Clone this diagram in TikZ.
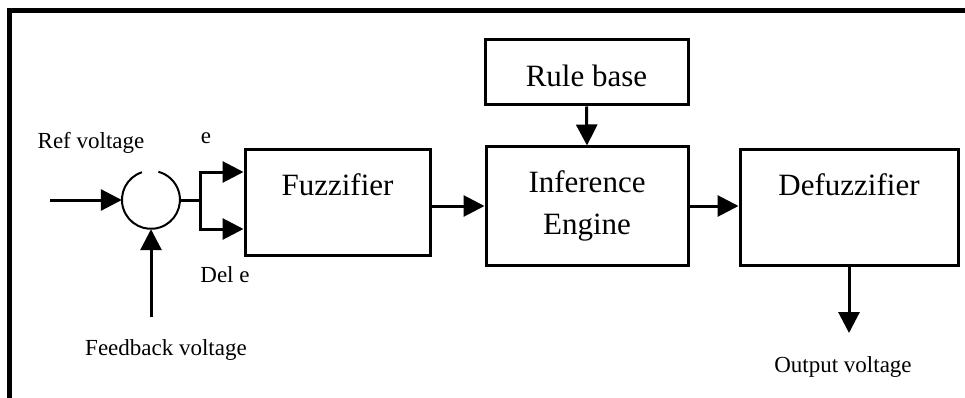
\documentclass[tikz,border=0pt]{standalone}
\usepackage{fontspec}
\setmainfont{Liberation Serif}
\usetikzlibrary{arrows.meta}
\begin{document}
\begin{tikzpicture}[x=1pt,y=-1pt,
  box/.style={draw, line width=3pt, inner sep=0pt, font=\fontsize{31}{42}\selectfont, align=center},
  lbl/.style={inner sep=0pt, font=\fontsize{23}{27}\selectfont},
  arr/.style={line width=3pt, -{Triangle[length=21pt,width=21pt]}},
  wire/.style={line width=3pt}]
\useasboundingbox (0,0) rectangle (965,398);
% frame
\draw[line width=5pt] (9.5,398) -- (9.5,11) -- (965,11);
% blocks
\node[box, minimum width=203pt, minimum height=65pt, text height=29pt, text depth=0pt] (rule) at (586.5,72.5) {Rule base};
\node[box, minimum width=202pt, minimum height=118pt] (inf) at (587,206) {Inference\\Engine};
\node[box, minimum width=218pt, minimum height=115pt, text height=21pt, text depth=46pt] (defz) at (849,207.5) {Defuzzifier};
\node[box, minimum width=185pt, minimum height=105pt, text height=21pt, text depth=36pt] (fuzz) at (337.5,202.5) {Fuzzifier};
% summing junction
\node[circle, minimum size=58pt, inner sep=0pt] (sum) at (151,200) {};
\draw[line width=2pt] (sum.108) arc[start angle=108, end angle=435, radius=29pt];
% labels
\node[lbl] (lref) at (91,143) {Ref voltage};
\node[lbl] (le) at (206,138) {e};
\node[lbl] (ldel) at (225,275) {Del e};
\node[lbl] (lfb) at (166,350) {Feedback voltage};
\node[lbl] (lout) at (843,367) {Output voltage};
% connectors
\coordinate (refin) at (50,200);
\coordinate (fbin) at (151,317);
\coordinate (split) at (200,200);
\coordinate (outp) at (849,333);
\draw[arr] (refin) -- (sum.west);
\draw[arr] (fbin) -- (sum.south);
\draw[wire] (sum.east) -- (split);
\draw[arr] (split) |- ([yshift=30.5pt]fuzz.west);
\draw[arr] (split) |- ([yshift=-26.5pt]fuzz.west);
\draw[arr] (fuzz.east |- inf.west) -- (inf.west);
\draw[arr] (inf.east) -- (defz.west |- inf.east);
\draw[arr] (rule.south) -- (inf.north);
\draw[arr] (defz.south) -- (outp);
\end{tikzpicture}
\end{document}
